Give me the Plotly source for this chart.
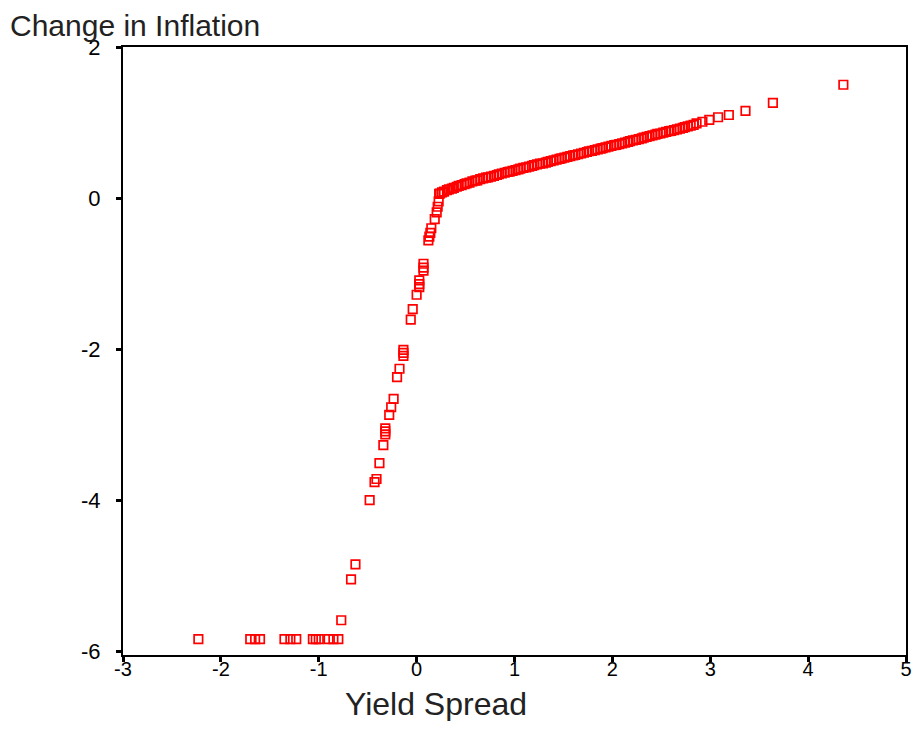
import plotly.graph_objects as go

# Bottom row (Change in Inflation ~ -5.84)
low_x = [-2.23, -1.70, -1.65, -1.60, -1.35, -1.29, -1.23, -1.06, -1.03, -1.00, -0.90, -0.85, -0.80]
low_y = [-5.84] * len(low_x)

# Steep section
steep_x = [-0.77, -0.67, -0.625, -0.48, -0.43, -0.41, -0.38, -0.34, -0.32, -0.32, -0.32, -0.28,
           -0.26, -0.235, -0.20, -0.175, -0.135, -0.135, -0.135, -0.06, -0.04, 0.0, 0.027, 0.027,
           0.027, 0.07, 0.07, 0.07, 0.12, 0.13, 0.14, 0.15, 0.185, 0.205, 0.215, 0.225]
steep_y = [-5.59, -5.05, -4.85, -4.00, -3.76, -3.72, -3.51, -3.27, -3.13, -3.09, -3.05, -2.87,
           -2.77, -2.66, -2.37, -2.26, -2.09, -2.05, -2.01, -1.61, -1.47, -1.28, -1.18, -1.14,
           -1.09, -0.96, -0.92, -0.87, -0.56, -0.51, -0.46, -0.40, -0.28, -0.19, -0.115, -0.045]

# Dense band
band_x = [0.23, 0.24, 0.26, 0.28, 0.31, 0.33, 0.36, 0.38, 0.41, 0.43, 0.46, 0.49, 0.51, 0.54,
          0.57, 0.60, 0.62, 0.65, 0.68, 0.71, 0.73, 0.76, 0.79, 0.82, 0.84, 0.87, 0.90, 0.93,
          0.95, 0.98, 1.01, 1.04, 1.06, 1.09, 1.12, 1.15, 1.18, 1.20, 1.23, 1.26, 1.29, 1.32,
          1.34, 1.37, 1.40, 1.43, 1.46, 1.48, 1.51, 1.54, 1.57, 1.60, 1.62, 1.65, 1.68, 1.71,
          1.74, 1.76, 1.79, 1.82, 1.85, 1.88, 1.90, 1.93, 1.96, 1.99, 2.02, 2.04, 2.07, 2.10,
          2.13, 2.16, 2.18, 2.21, 2.24, 2.27, 2.30, 2.32, 2.35, 2.38, 2.41, 2.44, 2.46, 2.49,
          2.52, 2.55, 2.58, 2.60, 2.63, 2.66, 2.69, 2.72, 2.74, 2.77, 2.80, 2.83]
band_y = [0.055, 0.06, 0.075, 0.085, 0.105, 0.115, 0.125, 0.135, 0.15, 0.16, 0.17, 0.185, 0.195, 0.205,
          0.22, 0.23, 0.235, 0.25, 0.26, 0.27, 0.275, 0.285, 0.295, 0.305, 0.315, 0.325, 0.335, 0.345,
          0.35, 0.36, 0.37, 0.38, 0.39, 0.40, 0.405, 0.415, 0.425, 0.435, 0.445, 0.455, 0.46, 0.47,
          0.48, 0.49, 0.50, 0.51, 0.52, 0.525, 0.535, 0.545, 0.555, 0.565, 0.57, 0.58, 0.59, 0.60,
          0.61, 0.62, 0.625, 0.635, 0.645, 0.655, 0.66, 0.67, 0.68, 0.69, 0.70, 0.705, 0.715, 0.725,
          0.735, 0.745, 0.755, 0.765, 0.77, 0.78, 0.79, 0.80, 0.81, 0.82, 0.83, 0.84, 0.85, 0.855,
          0.865, 0.875, 0.885, 0.89, 0.90, 0.91, 0.92, 0.93, 0.94, 0.95, 0.96, 0.97]

# Upper tail
tail_x = [2.86, 2.92, 2.99, 3.08, 3.19, 3.36, 3.64, 4.36]
tail_y = [0.99, 1.01, 1.035, 1.07, 1.10, 1.155, 1.26, 1.50]

x_ticks = [-3, -2, -1, 0, 1, 2, 3, 4, 5]
y_ticks = [-6, -4, -2, 0, 2]
x_range = [-3, 5]
y_range = [-6.05, 2]

xs = low_x + steep_x + band_x + tail_x
ys = low_y + steep_y + band_y + tail_y

W, H = 907, 713          # page has an 8px body margin; stay inside the window
L, R, T, B = 115, 3, 39, 66
PW = W - L - R
PH = H - T - B

fig = go.Figure()
fig.add_trace(go.Scatter(
    x=xs, y=ys, mode="markers",
    marker=dict(symbol="square-open", size=8.5, color="#ff0000",
                line=dict(width=1.7, color="#ff0000")),
    showlegend=False, hoverinfo="x+y"))
# empty trace so the label-only overlay axis is drawn
fig.add_trace(go.Scatter(x=[], y=[], xaxis="x2", showlegend=False, hoverinfo="skip"))

axis_common = dict(showgrid=False, zeroline=False, showline=True, linecolor="black",
                   linewidth=2, mirror=True, ticks="outside", ticklen=5, tickwidth=3,
                   tickcolor="black")

fig.update_layout(
    width=W, height=H,
    margin=dict(l=L, r=R, t=T, b=B, pad=0),
    paper_bgcolor="white", plot_bgcolor="white",
    font=dict(family="Liberation Sans, Arial, sans-serif", color="black"),
    title=dict(text="Change in Inflation", x=2/W, xanchor="left", xref="container",
               y=1 - 17/H, yanchor="middle", yref="container",
               font=dict(size=30, color="#222222", family="Liberation Sans, Arial, sans-serif")),
    # tick marks only
    xaxis=dict(range=x_range, tickvals=x_ticks, showticklabels=False, **axis_common),
    # tick labels only, sitting close under the axis
    xaxis2=dict(range=x_range, tickvals=x_ticks, ticktext=[str(v) for v in x_ticks],
                overlaying="x", anchor="y", side="bottom", ticks="", showline=False,
                showgrid=False, zeroline=False, ticklabeloverflow="allow",
                tickfont=dict(size=20, family="Liberation Sans Narrow, Liberation Sans, Arial")),
    yaxis=dict(range=y_range, tickvals=y_ticks, ticktext=[str(v) for v in y_ticks],
               tickfont=dict(size=22), ticklabelstandoff=11, ticklabeloverflow="allow",
               **axis_common),
    annotations=[dict(text="Yield Spread", xref="paper", yref="paper",
                      x=(430 - L) / PW, y=-(696 - (H - B)) / PH, xanchor="center",
                      yanchor="middle", showarrow=False,
                      font=dict(size=32, color="#222222"))],
)

fig.write_html("out.html", config={"displayModeBar": False})
